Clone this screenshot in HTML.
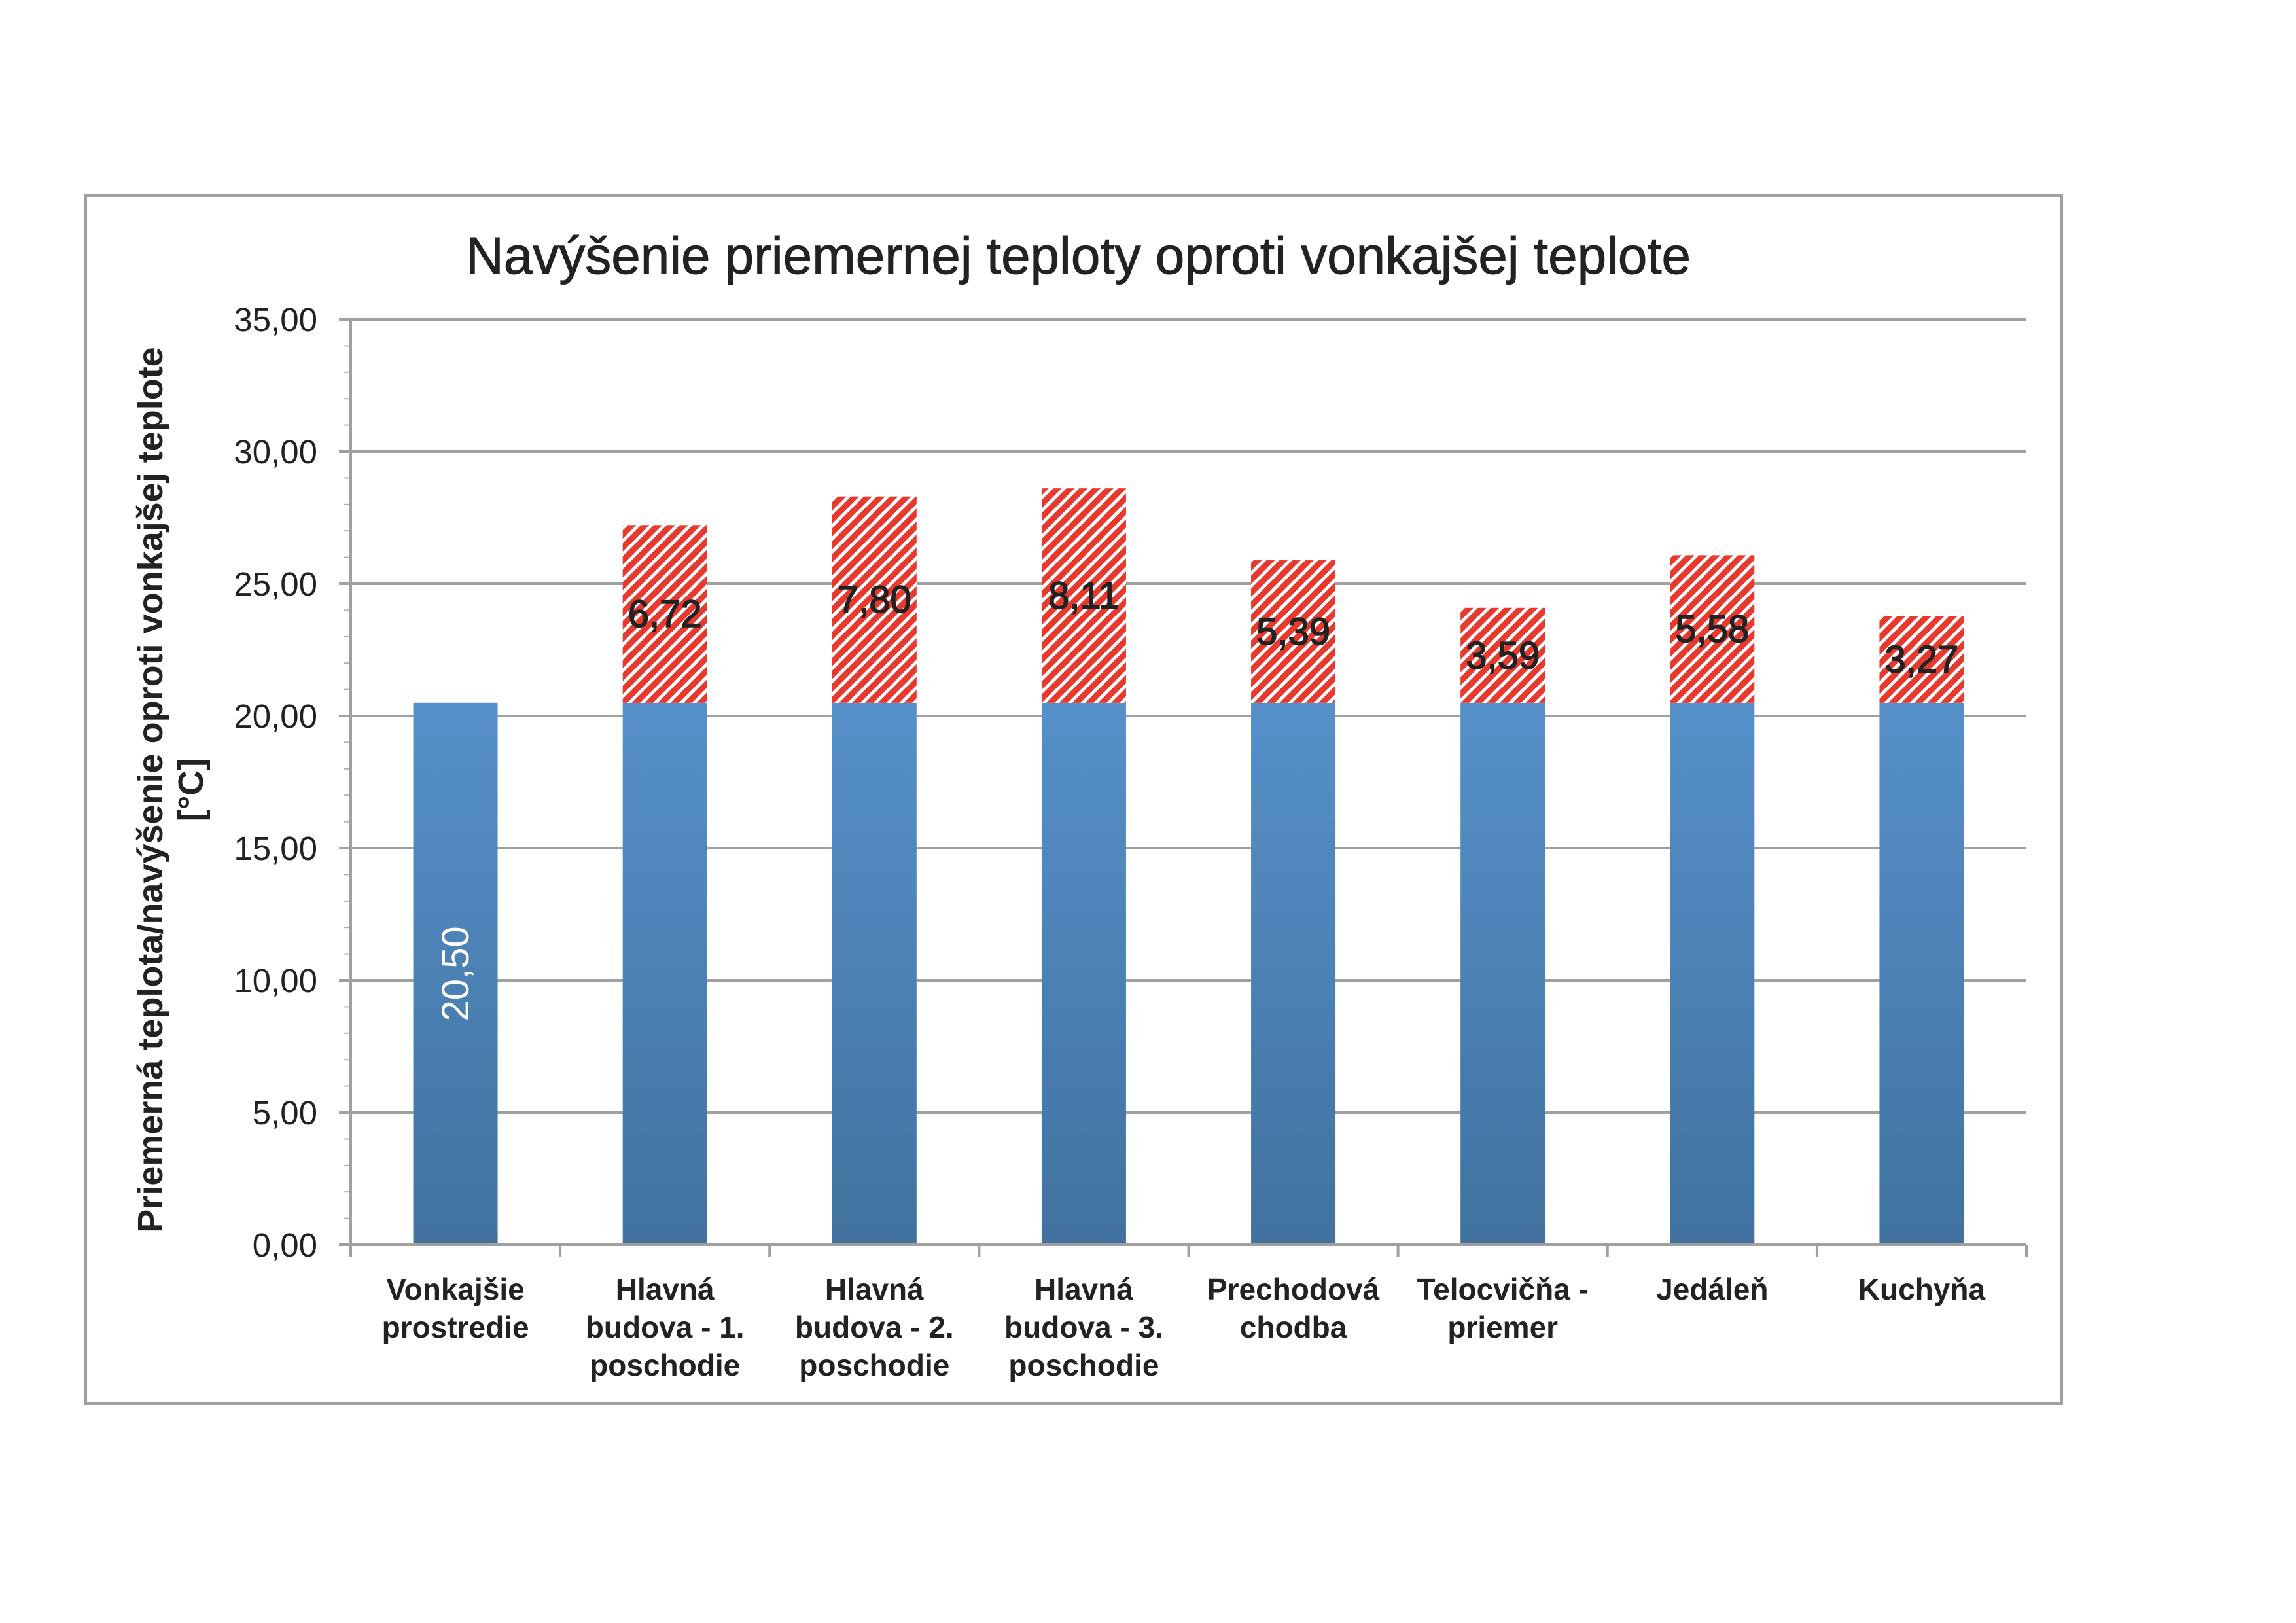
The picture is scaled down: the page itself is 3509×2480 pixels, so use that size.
<!DOCTYPE html>
<html><head><meta charset="utf-8"><style>
html,body{margin:0;padding:0;background:#fff;}
svg{display:block;font-family:"Liberation Sans",sans-serif;}
</style></head><body>
<svg id="chart" xmlns="http://www.w3.org/2000/svg" width="3509" height="2480" viewBox="0 0 3509 2480">
<defs>
<linearGradient id="blueGrad" x1="0" y1="0" x2="0" y2="1">
<stop offset="0" stop-color="#5690ca"/><stop offset="1" stop-color="#41729f"/>
</linearGradient>
<pattern id="hatch" patternUnits="userSpaceOnUse" width="14" height="14" patternTransform="rotate(45)">
<rect width="14" height="14" fill="#fff"/><rect width="9" height="14" fill="#e8392f"/>
</pattern>
</defs>
<rect x="131" y="299" width="3020" height="1846" fill="#fff" stroke="#a0a0a0" stroke-width="4"/>
<text x="1648" y="418" font-size="80" text-anchor="middle" fill="#222" stroke="#222" stroke-width="1">Navýšenie priemernej teploty oproti vonkajšej teplote</text>
<g font-size="54" font-weight="bold" fill="#222" text-anchor="middle">
<text transform="translate(248,1207) rotate(-90)">Priemerná teplota/navýšenie oproti vonkajšej teplote</text>
<text transform="translate(310,1207) rotate(-90)">[°C]</text>
</g>
<g id="grid"></g><g id="bars"></g><g id="axes"></g><g id="labels"></g>
</svg>
<script>
const categories=[["Vonkajšie","prostredie"],["Hlavná","budova - 1.","poschodie"],["Hlavná","budova - 2.","poschodie"],["Hlavná","budova - 3.","poschodie"],["Prechodová","chodba"],["Telocvičňa -","priemer"],["Jedáleň"],["Kuchyňa"]];
const baseValues=[20.50,20.50,20.50,20.50,20.50,20.50,20.50,20.50];
const increaseValues=[0,6.72,7.80,8.11,5.39,3.59,5.58,3.27];
const yTicks=[0,5,10,15,20,25,30,35];
const yTickLabels=["0,00","5,00","10,00","15,00","20,00","25,00","30,00","35,00"];
const NS="http://www.w3.org/2000/svg";
const X0=536,X1=3097,Y0=1902,Y35=488,YMAX=35;
const y=v=>Y0-(v/YMAX)*(Y0-Y35);
const bw=(X1-X0)/categories.length;
const xc=i=>X0+bw*(i+0.5);
const barW=129;
function mk(tag,attrs,parent){const e=document.createElementNS(NS,tag);for(const k in attrs)e.setAttribute(k,attrs[k]);parent.appendChild(e);return e;}
const grid=document.getElementById('grid'),bars=document.getElementById('bars'),axes=document.getElementById('axes'),labels=document.getElementById('labels');
yTicks.forEach((t,i)=>{
 if(t>0){const l=mk('line',{x1:X0,x2:X1,y1:y(t),y2:y(t),stroke:'#a0a0a0','stroke-width':4},grid);
 
 }
 const tk=mk('line',{x1:X0-18,x2:X0,y1:y(t),y2:y(t),stroke:'#a0a0a0','stroke-width':4},axes);
 
 
 const tx=mk('text',{x:485,y:y(t)+18,'font-size':51,'text-anchor':'end',fill:'#222'},labels);
 tx.textContent=yTickLabels[i];
 
 
});
for(let v=1;v<YMAX;v++){if(v%5===0)continue;
 const m=mk('line',{x1:X0-10,x2:X0,y1:y(v),y2:y(v),stroke:'#b0b0b0','stroke-width':2},axes);
 
 }
categories.forEach((c,i)=>{
 const x=xc(i)-barW/2;
 const b=mk('rect',{x:x,y:y(baseValues[i]),width:barW,height:Y0-y(baseValues[i]),fill:'url(#blueGrad)'},bars);
 
 
 if(increaseValues[i]>0){
  const top=baseValues[i]+increaseValues[i];
  const r=mk('rect',{x:x,y:y(top),width:barW,height:y(baseValues[i])-y(top),fill:'url(#hatch)'},bars);
  
  
  const t=mk('text',{x:xc(i),y:(y(top)+y(baseValues[i]))/2+20,'font-size':58,'text-anchor':'middle',fill:'#222',stroke:'#222','stroke-width':1.5},labels);
  t.textContent=increaseValues[i].toFixed(2).replace('.',',');
  
  
 } else {
  const cy=y(baseValues[i]/2);
  const t=mk('text',{x:0,y:0,'font-size':58,'text-anchor':'middle',fill:'#fff',transform:`translate(${xc(i)+20},${cy}) rotate(-90)`},labels);
  t.textContent=baseValues[i].toFixed(2).replace('.',',');
  
  
 }
 const ct=mk('line',{x1:X0+bw*(i+1),x2:X0+bw*(i+1),y1:Y0,y2:Y0+18,stroke:'#a0a0a0','stroke-width':4},axes);
 
 
 c.forEach((line,j)=>{
  const t=mk('text',{x:xc(i),y:1986+j*58,'font-size':46,'font-weight':'bold','text-anchor':'middle',fill:'#222'},labels);
  t.textContent=line;
  
  
 });
});
const xa=mk('line',{x1:X0-18,x2:X1,y1:Y0,y2:Y0,stroke:'#a0a0a0','stroke-width':4},axes);


const ya=mk('line',{x1:X0,x2:X0,y1:Y35,y2:Y0+18,stroke:'#a0a0a0','stroke-width':4},axes);


</script>
</body></html>
